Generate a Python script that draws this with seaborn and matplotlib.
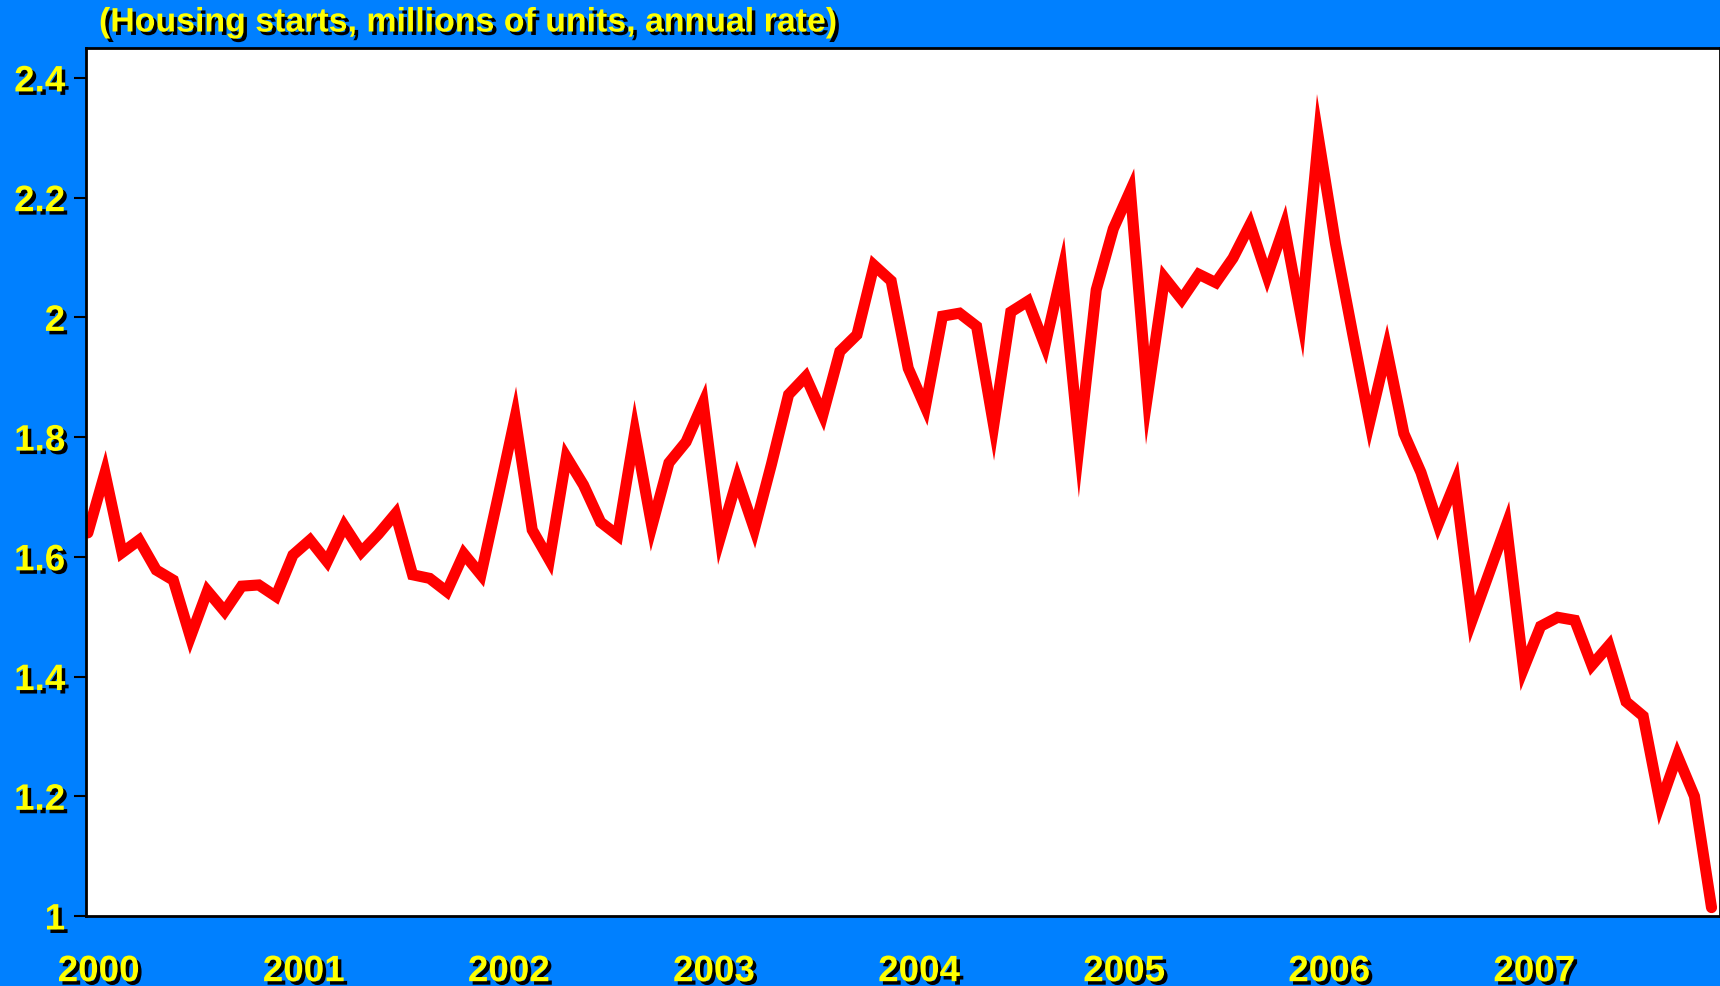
import numpy as np
import pandas as pd
import matplotlib
matplotlib.use("Agg")
import matplotlib.pyplot as plt
import matplotlib.patheffects as pe
import seaborn as sns

# Housing starts, millions of units, annual rate (monthly, Jan 2000 - Dec 2007)
years = [2000, 2001, 2002, 2003, 2004, 2005, 2006, 2007]
starts_2000 = [1.640, 1.740, 1.607, 1.628, 1.578, 1.561, 1.466, 1.543, 1.509, 1.551, 1.553, 1.534]
starts_2001 = [1.603, 1.628, 1.592, 1.652, 1.608, 1.638, 1.672, 1.570, 1.564, 1.542, 1.605, 1.570]
starts_2002 = [1.700, 1.833, 1.645, 1.595, 1.767, 1.720, 1.658, 1.636, 1.808, 1.651, 1.757, 1.792]
starts_2003 = [1.857, 1.632, 1.730, 1.646, 1.755, 1.871, 1.901, 1.837, 1.943, 1.971, 2.087, 2.061]
starts_2004 = [1.915, 1.850, 2.002, 2.007, 1.985, 1.819, 2.009, 2.027, 1.953, 2.077, 1.788, 2.046]
starts_2005 = [2.148, 2.212, 1.869, 2.066, 2.030, 2.072, 2.058, 2.099, 2.155, 2.069, 2.152, 1.999]
starts_2006 = [2.300, 2.123, 1.973, 1.825, 1.946, 1.806, 1.741, 1.654, 1.724, 1.495, 1.574, 1.653]
starts_2007 = [1.413, 1.484, 1.499, 1.494, 1.419, 1.452, 1.358, 1.334, 1.187, 1.268, 1.200, 1.014]

ytick_values = [1.0, 1.2, 1.4, 1.6, 1.8, 2.0, 2.2, 2.4]
ytick_labels = ["1", "1.2", "1.4", "1.6", "1.8", "2", "2.2", "2.4"]
title_text = "(Housing starts, millions of units, annual rate)"

all_years = [starts_2000, starts_2001, starts_2002, starts_2003,
             starts_2004, starts_2005, starts_2006, starts_2007]
rows = []
for yr, vals in zip(years, all_years):
    for m, v in enumerate(vals):
        rows.append({"t": yr + m / 12.0, "starts": v})
df = pd.DataFrame(rows)

BG = "#0080FF"
YEL = "#FFFF00"

sns.set_style("white")
plt.rcParams["font.family"] = ["Liberation Sans", "DejaVu Sans"]
plt.rcParams["font.weight"] = "bold"

fig = plt.figure(figsize=(17.2, 9.87), dpi=100, facecolor=BG)
ax = fig.add_axes([86 / 1720, 70 / 987, 1634 / 1720, 868 / 987])
ax.set_facecolor("white")

sns.lineplot(data=df, x="t", y="starts", ax=ax, color="#FF0000", linewidth=8.0,
             solid_joinstyle="miter", solid_capstyle="round", legend=False)

ax.set_xlim(1999.991, 2007.958)
ax.set_ylim(1.0, 2.45)
ax.set_xlabel("")
ax.set_ylabel("")

shadow = [pe.withSimplePatchShadow(offset=(2.5, -2.5), shadow_rgbFace="black", alpha=1.0)]

ax.set_yticks(ytick_values)
ax.set_yticklabels(ytick_labels)
ax.set_xticks([y + 0.053 for y in years])
ax.set_xticklabels([str(y) for y in years])

ax.tick_params(axis="y", which="both", left=True, length=9, width=1.5, color="black",
               pad=6, labelsize=26.5, labelcolor=YEL)
ax.tick_params(axis="x", which="both", bottom=True, length=0, pad=27.5,
               labelsize=26.5, labelcolor=YEL)
for lab in ax.get_xticklabels() + ax.get_yticklabels():
    lab.set_fontweight("bold")
    lab.set_path_effects(shadow)

for side in ["left", "bottom", "top", "right"]:
    ax.spines[side].set_visible(True)
    ax.spines[side].set_color("black")
    ax.spines[side].set_linewidth(2)

fig.text(99 / 1720, 1 - 24 / 987, title_text, color=YEL, fontsize=24.4, fontweight="bold",
         ha="left", va="center", path_effects=shadow)

fig.savefig("out.png", dpi=100, facecolor=BG)
